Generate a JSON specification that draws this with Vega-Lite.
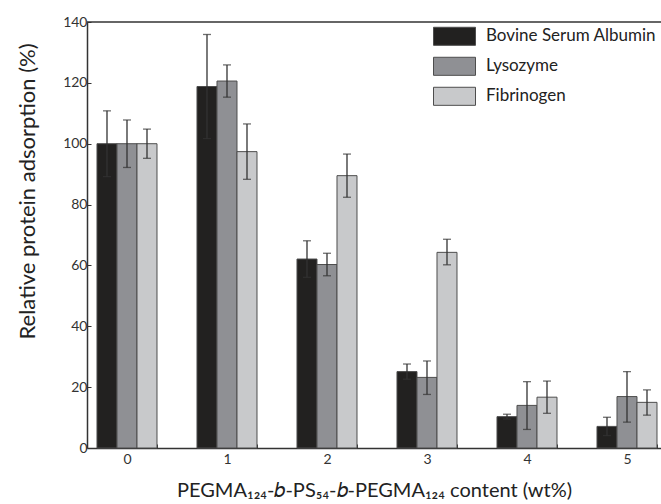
{
  "$schema": "https://vega.github.io/schema/vega-lite/v6.json",
  "autosize": {"type": "none"},
  "padding": {"left": 87, "top": 22, "right": 0, "bottom": 56},
  "width": 574,
  "height": 426,
  "background": "white",
  "config": {
    "view": {"stroke": null},
    "font": "Lato",
    "axis": {"labelFont": "Lato", "titleFont": "Lato", "labelColor": "#333", "titleColor": "#222", "titleFontWeight": "normal", "domainColor": "#333", "tickColor": "#333"}
  },
  "datasets": {
    "bars": [
      {"c": "0", "protein": "Bovine Serum Albumin", "v": 100, "lo": 89.2, "hi": 110.8},
      {"c": "0", "protein": "Lysozyme", "v": 100, "lo": 92.2, "hi": 107.8},
      {"c": "0", "protein": "Fibrinogen", "v": 100, "lo": 95.2, "hi": 104.8},
      {"c": "1", "protein": "Bovine Serum Albumin", "v": 118.8, "lo": 101.7, "hi": 135.9},
      {"c": "1", "protein": "Lysozyme", "v": 120.6, "lo": 115.3, "hi": 125.9},
      {"c": "1", "protein": "Fibrinogen", "v": 97.4, "lo": 88.3, "hi": 106.5},
      {"c": "2", "protein": "Bovine Serum Albumin", "v": 62.1, "lo": 56.1, "hi": 68.1},
      {"c": "2", "protein": "Lysozyme", "v": 60.3, "lo": 56.6, "hi": 64.0},
      {"c": "2", "protein": "Fibrinogen", "v": 89.5, "lo": 82.4, "hi": 96.6},
      {"c": "3", "protein": "Bovine Serum Albumin", "v": 25.1, "lo": 22.6, "hi": 27.6},
      {"c": "3", "protein": "Lysozyme", "v": 23.2, "lo": 17.6, "hi": 28.6},
      {"c": "3", "protein": "Fibrinogen", "v": 64.3, "lo": 60.2, "hi": 68.6},
      {"c": "4", "protein": "Bovine Serum Albumin", "v": 10.3, "lo": 9.5, "hi": 11.1},
      {"c": "4", "protein": "Lysozyme", "v": 14.0, "lo": 6.1, "hi": 21.8},
      {"c": "4", "protein": "Fibrinogen", "v": 16.7, "lo": 11.4, "hi": 22.0},
      {"c": "5", "protein": "Bovine Serum Albumin", "v": 7.1, "lo": 4.1, "hi": 10.1},
      {"c": "5", "protein": "Lysozyme", "v": 16.9, "lo": 8.5, "hi": 25.1},
      {"c": "5", "protein": "Fibrinogen", "v": 15.0, "lo": 10.8, "hi": 19.1}
    ],
    "frame": [{"top": 140}]
  },
  "layer": [
    {
      "data": {"name": "bars"},
      "mark": {"type": "bar", "stroke": "#4d4d4d", "strokeWidth": 1},
      "encoding": {
        "x": {
          "field": "c", "type": "nominal",
          "scale": {"type": "band", "paddingInner": 0.4, "paddingOuter": 0.07, "align": 0.714},
          "axis": {
            "title": "PEGMA₁₂₄-𝑏-PS₅₄-𝑏-PEGMA₁₂₄ content (wt%)",
            "labelAngle": 0, "labelFontSize": 14, "labelPadding": 8,
            "tickBand": "extent", "tickSize": -4, "tickWidth": 1,
            "domainWidth": 1.5,
            "titleFontSize": 20, "titleX": 287, "titleY": 48, "titleBaseline": "alphabetic", "titleAnchor": "middle", "titleAlign": "center"
          }
        },
        "xOffset": {"field": "protein", "type": "nominal", "sort": ["Bovine Serum Albumin", "Lysozyme", "Fibrinogen"], "scale": {"paddingInner": 0, "paddingOuter": 0}},
        "y": {
          "field": "v", "type": "quantitative",
          "scale": {"domain": [0, 140], "nice": false},
          "axis": {
            "title": "Relative protein adsorption (%)",
            "values": [0, 10, 20, 30, 40, 50, 60, 70, 80, 90, 100, 110, 120, 130, 140],
            "labelExpr": "datum.value % 20 === 0 ? datum.label : ''",
            "labelFontSize": 14, "labelPadding": 4,
            "tickSize": -4, "tickWidth": 1,
            "grid": false, "domainWidth": 1.5,
            "titleFontSize": 22, "titleX": -60, "titleY": 169, "titleAngle": -90, "titleAlign": "center", "titleBaseline": "middle"
          }
        },
        "color": {
          "field": "protein", "type": "nominal",
          "scale": {"domain": ["Bovine Serum Albumin", "Lysozyme", "Fibrinogen"], "range": ["#222120", "#8f9094", "#c8c9cb"]},
          "legend": {
            "title": null, "orient": "none", "legendX": 356.5, "legendY": 3.3, "padding": 0,
            "symbolType": "M-2,-0.86H2V0.86H-2Z", "symbolSize": 441, "symbolOpacity": 1,
            "symbolStrokeColor": "#4d4d4d", "symbolStrokeWidth": 1,
            "labelOffset": 20.5, "labelFontSize": 17, "labelFont": "Lato", "labelColor": "#222", "rowPadding": 6, "labelLimit": 300
          }
        }
      }
    },
    {
      "data": {"name": "bars"},
      "mark": {"type": "rule", "color": "#333", "strokeWidth": 1.3},
      "encoding": {
        "x": {"field": "c", "type": "nominal"},
        "xOffset": {"field": "protein", "type": "nominal", "sort": ["Bovine Serum Albumin", "Lysozyme", "Fibrinogen"]},
        "y": {"field": "lo", "type": "quantitative"},
        "y2": {"field": "hi"}
      }
    },
    {
      "data": {"name": "bars"},
      "mark": {"type": "tick", "color": "#333", "size": 8, "thickness": 1.3},
      "encoding": {
        "x": {"field": "c", "type": "nominal"},
        "xOffset": {"field": "protein", "type": "nominal", "sort": ["Bovine Serum Albumin", "Lysozyme", "Fibrinogen"]},
        "y": {"field": "hi", "type": "quantitative"}
      }
    },
    {
      "data": {"name": "bars"},
      "mark": {"type": "tick", "color": "#333", "size": 8, "thickness": 1.3},
      "encoding": {
        "x": {"field": "c", "type": "nominal"},
        "xOffset": {"field": "protein", "type": "nominal", "sort": ["Bovine Serum Albumin", "Lysozyme", "Fibrinogen"]},
        "y": {"field": "lo", "type": "quantitative"}
      }
    },
    {
      "data": {"name": "frame"},
      "mark": {"type": "rule", "color": "#333", "strokeWidth": 1.5},
      "encoding": {"y": {"field": "top", "type": "quantitative"}}
    }
  ]
}
